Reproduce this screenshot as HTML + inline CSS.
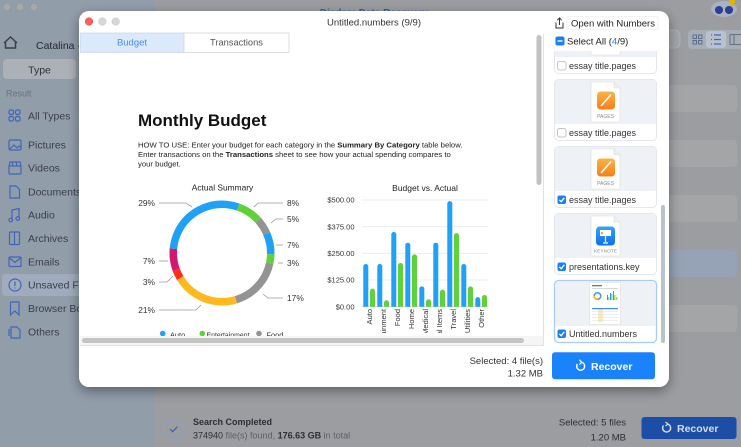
<!DOCTYPE html>
<html><head><meta charset="utf-8"><style>
html,body{margin:0;padding:0;width:741px;height:447px;overflow:hidden;background:#9d9ea1}
svg{display:block;font-family:"Liberation Sans",Arial,sans-serif}
</style></head><body>
<svg width="741" height="447" viewBox="0 0 741 447" xmlns="http://www.w3.org/2000/svg">
<defs>
<filter id="sh" x="-10%" y="-10%" width="120%" height="125%"><feGaussianBlur in="SourceAlpha" stdDeviation="6"/><feOffset dy="4"/><feComponentTransfer><feFuncA type="linear" slope="0.4"/></feComponentTransfer><feMerge><feMergeNode/><feMergeNode in="SourceGraphic"/></feMerge></filter>
<clipPath id="pv"><rect x="80" y="53" width="456" height="283"/></clipPath>
<clipPath id="lst"><rect x="548" y="51" width="116" height="296"/></clipPath>
<clipPath id="bars"><rect x="355" y="190" width="140" height="116.7"/></clipPath>
<clipPath id="xl"><rect x="355" y="306" width="140" height="27"/></clipPath>
<linearGradient id="og" x1="0" y1="0" x2="0" y2="1"><stop offset="0" stop-color="#fdb344"/><stop offset="1" stop-color="#f57f17"/></linearGradient>
<linearGradient id="kg" x1="0" y1="0" x2="0" y2="1"><stop offset="0" stop-color="#39a2fb"/><stop offset="1" stop-color="#0b6fe8"/></linearGradient>
</defs>

<!-- background app -->
<rect width="741" height="447" fill="#9c9da0"/>
<rect x="0" y="0" width="155" height="447" fill="#929daa"/>
<circle cx="7" cy="7" r="3.8" fill="#a4a9af" stroke="#8f959c" stroke-width=".6"/>
<circle cx="20" cy="7" r="3.8" fill="#a4a9af" stroke="#8f959c" stroke-width=".6"/>
<circle cx="34" cy="7" r="3.8" fill="#a4a9af" stroke="#8f959c" stroke-width=".6"/>
<text x="374" y="16" font-size="10" font-weight="bold" fill="#2f5cb0" text-anchor="middle">Diadem Data Recovery</text>
<!-- logo -->
<ellipse cx="724" cy="9" rx="13" ry="8" fill="#a9b2c4"/>
<circle cx="719" cy="10" r="4" fill="#2c3f8c"/><circle cx="729" cy="10" r="4" fill="#2c3f8c"/>
<rect x="729" y="0" width="6" height="3" fill="#e3b400"/><rect x="730.5" y="0" width="3" height="6" fill="#e3b400"/>

<!-- sidebar -->
<path d="M4 43 L10.5 37 L17 43 M5.5 42 V48 H15.5 V42" fill="none" stroke="#3a3f47" stroke-width="1.5"/>
<text x="36" y="49" font-size="10.5" fill="#24282e">Catalina - Macintosh HD</text>
<rect x="3" y="59" width="73" height="20" rx="4" fill="#acb0b7"/>
<text x="39.5" y="73.5" font-size="10.5" fill="#2f3238" text-anchor="middle">Type</text>
<text x="6" y="96.5" font-size="9" fill="#6b737d">Result</text>
<rect x="2" y="274" width="150" height="22" rx="4" fill="#a0acbd"/>
<g fill="none" stroke="#4066b8" stroke-width="1.2">
<rect x="9" y="110" width="4.5" height="4.5" rx="1.5"/><rect x="15.5" y="110" width="4.5" height="4.5" rx="1.5"/><rect x="9" y="116.5" width="4.5" height="4.5" rx="1.5"/><rect x="15.5" y="116.5" width="4.5" height="4.5" rx="1.5"/>
<rect x="9" y="140" width="12" height="10" rx="1.5"/><path d="M10 149 L14 145 L17 148 L19 146 L21 148"/>
<rect x="9" y="166" width="12" height="8" rx="1"/><path d="M9 166 L10 162 L20 162 L21 166 M12 162 L13 166 M16 162 L17 166"/>
<path d="M10 186 H16 L19.5 189.5 V198 H10 Z"/>
<path d="M12 220 V210 L19 208.5 V218"/><circle cx="10.8" cy="220" r="1.8"/><circle cx="17.8" cy="218.5" r="1.8"/>
<rect x="9.5" y="232" width="10" height="12.5" rx="1"/><path d="M14.5 232 V244.5"/>
<rect x="9" y="257" width="12" height="9.5" rx="1"/><path d="M9 257.5 L15 262.5 L21 257.5"/>
<circle cx="15" cy="285" r="6"/><path d="M15 281.5 V286 M15 287.5 V288.5"/>
<path d="M10.5 302 H19 V315 L14.75 311 L10.5 315 Z"/>
<path d="M11 327 H17 L20 330 V338 H11 Z M9 329 V336"/>
</g>
<g font-size="10.5" fill="#3a3f48">
<text x="28" y="119.7">All Types</text>
<text x="28" y="148.7">Pictures</text>
<text x="28" y="171.7">Videos</text>
<text x="28" y="195.7">Documents</text>
<text x="28" y="218.7">Audio</text>
<text x="28" y="242">Archives</text>
<text x="28" y="265.7">Emails</text>
<text x="28" y="288.7">Unsaved Files</text>
<text x="28" y="312.2">Browser Bookmarks</text>
<text x="28" y="335.7">Others</text>
</g>

<!-- main toolbar -->
<rect x="500" y="30" width="180" height="18" rx="5" fill="#a3a6aa" stroke="#b2b5b9" stroke-width=".8"/>
<rect x="688" y="30" width="60" height="19" rx="4" fill="#a8aeb6"/>
<g fill="none" stroke="#5d6e8c" stroke-width="1"><rect x="693" y="35" width="3.5" height="3.5"/><rect x="698.5" y="35" width="3.5" height="3.5"/><rect x="693" y="40.5" width="3.5" height="3.5"/><rect x="698.5" y="40.5" width="3.5" height="3.5"/></g>
<rect x="706" y="31" width="20" height="17" rx="3" fill="#b9c1cb"/>
<g stroke="#3a6bc7" stroke-width="1.2"><path d="M711 35 H712 M714 35 H721 M711 39.5 H712 M714 39.5 H721 M711 44 H712 M714 44 H721"/></g>
<g stroke="#6a7588" stroke-width="1.1" fill="none"><rect x="730" y="34.5" width="14" height="10"/><path d="M734 34.5 V44.5"/></g>
<!-- rows -->
<g fill="#a4a5a7"><rect x="160" y="85" width="577" height="27" rx="4"/><rect x="160" y="140" width="577" height="27" rx="4"/><rect x="160" y="195" width="577" height="27" rx="4"/><rect x="160" y="305" width="577" height="27" rx="4"/></g>
<rect x="160" y="250" width="577" height="27" rx="4" fill="#96a3b6"/>

<!-- bottom bar -->
<circle cx="173.5" cy="429" r="10" fill="none" stroke="#8ca1c6" stroke-width="1.2"/>
<path d="M170 429 L172.7 431.7 L177.5 426.5" fill="none" stroke="#3b63b8" stroke-width="1.2"/>
<text x="193" y="425" font-size="9" font-weight="bold" fill="#2b2f36">Search Completed</text>
<text x="193" y="438.5" font-size="9" fill="#5b6068"><tspan fill="#2b2f36">374940</tspan> file(s) found, <tspan fill="#2b2f36" font-weight="bold">176.63 GB</tspan> in total</text>
<text x="626" y="425.5" font-size="9.5" fill="#2b2f36" text-anchor="end">Selected: 5 files</text>
<text x="626" y="440.5" font-size="9.5" fill="#2b2f36" text-anchor="end">1.20 MB</text>
<rect x="641.5" y="417" width="95" height="22" rx="3" fill="#1c4ea8"/>
<path d="M663.5 425.5 A4 4 0 1 0 667 424" fill="none" stroke="#d7dce6" stroke-width="1.4"/>
<path d="M665.5 422 L668 424 L665.5 426" fill="none" stroke="#d7dce6" stroke-width="1.2"/>
<text x="677" y="432" font-size="10.5" font-weight="bold" fill="#d7dce6">Recover</text>

<!-- modal -->
<rect x="79" y="11" width="590" height="376" rx="10" fill="#fff" filter="url(#sh)"/>
<circle cx="89" cy="21.5" r="3.8" fill="#fe5f57" stroke="#e0443e" stroke-width=".5"/>
<circle cx="102.3" cy="21.5" r="3.8" fill="#d6d6d6" stroke="#c4c4c4" stroke-width=".5"/>
<circle cx="115.7" cy="21.5" r="3.8" fill="#d6d6d6" stroke="#c4c4c4" stroke-width=".5"/>
<text x="374" y="25.5" font-size="9.5" fill="#333" text-anchor="middle">Untitled.numbers (9/9)</text>

<!-- tabs -->
<rect x="80.5" y="33" width="103.5" height="19.5" fill="#dbe9fb" stroke="#c9d9ee" stroke-width=".8"/>
<rect x="184" y="33" width="105" height="19.5" fill="#fff" stroke="#d6d6d6" stroke-width=".8"/>
<text x="132" y="45.5" font-size="9.5" fill="#4a8fe7" text-anchor="middle">Budget</text>
<text x="236.5" y="45.5" font-size="9.3" fill="#555" text-anchor="middle">Transactions</text>

<!-- preview borders & scrollbars -->
<path d="M543.5 34 V345.5 H80" fill="none" stroke="#e2e2e2" stroke-width="1"/>
<rect x="80" y="336" width="463" height="9" fill="#f5f5f5"/>
<rect x="82" y="338" width="442" height="5" rx="2.5" fill="#c4c4c4"/>
<rect x="536.5" y="35" width="5" height="150" rx="2.5" fill="#c2c2c2"/>

<g clip-path="url(#pv)">
<text x="138" y="126" font-size="17" font-weight="bold" fill="#111">Monthly Budget</text>
<g font-size="7.7" fill="#222">
<text x="138" y="147.3">HOW TO USE: Enter your budget for each category in the <tspan font-weight="bold">Summary By Category</tspan> table below.</text>
<text x="138" y="157">Enter transactions on the <tspan font-weight="bold">Transactions</tspan> sheet to see how your actual spending compares to</text>
<text x="138" y="166.3">your budget.</text>
</g>

<!-- donut -->
<text x="222.5" y="190.3" font-size="8.4" fill="#222" text-anchor="middle">Actual Summary</text>
<g fill="none" stroke-width="7.5" transform="rotate(-175 222 253)">
<circle cx="222" cy="253" r="48.75" pathLength="100" stroke="#1ea1f6" stroke-dasharray="29 71" stroke-dashoffset="0"/>
<circle cx="222" cy="253" r="48.75" pathLength="100" stroke="#5fd23a" stroke-dasharray="8 92" stroke-dashoffset="-29"/>
<circle cx="222" cy="253" r="48.75" pathLength="100" stroke="#939393" stroke-dasharray="5 95" stroke-dashoffset="-37"/>
<circle cx="222" cy="253" r="48.75" pathLength="100" stroke="#1ea1f6" stroke-dasharray="7 93" stroke-dashoffset="-42"/>
<circle cx="222" cy="253" r="48.75" pathLength="100" stroke="#5fd23a" stroke-dasharray="3 97" stroke-dashoffset="-49"/>
<circle cx="222" cy="253" r="48.75" pathLength="100" stroke="#939393" stroke-dasharray="17 83" stroke-dashoffset="-52"/>
<circle cx="222" cy="253" r="48.75" pathLength="100" stroke="#fdb91e" stroke-dasharray="21 79" stroke-dashoffset="-69"/>
<circle cx="222" cy="253" r="48.75" pathLength="100" stroke="#fe2c1c" stroke-dasharray="3 97" stroke-dashoffset="-90"/>
<circle cx="222" cy="253" r="48.75" pathLength="100" stroke="#d31870" stroke-dasharray="7 93" stroke-dashoffset="-93"/>
</g>
<g fill="none" stroke="#9a9a9a" stroke-width=".8">
<polyline points="159,203 186,203 192,207"/>
<polyline points="283,203 258,203 254,207"/>
<polyline points="283,219 276,219 271,223"/>
<polyline points="283,245 276,245"/>
<polyline points="283,263 278,263"/>
<polyline points="283,298 268,298 263,294"/>
<polyline points="159,261 168,261"/>
<polyline points="159,282 167,282 173,276"/>
<polyline points="159,310 196,310 201,305"/>
</g>
<g font-size="8.4" fill="#333">
<text x="155" y="206" text-anchor="end">29%</text>
<text x="155" y="264" text-anchor="end">7%</text>
<text x="155" y="285" text-anchor="end">3%</text>
<text x="155" y="313" text-anchor="end">21%</text>
<text x="287" y="206">8%</text>
<text x="287" y="222">5%</text>
<text x="287" y="248">7%</text>
<text x="287" y="266">3%</text>
<text x="287" y="301">17%</text>
</g>
<circle cx="162.7" cy="333.5" r="2.8" fill="#1ea1f6"/>
<circle cx="202.3" cy="333.5" r="2.8" fill="#5fd23a"/>
<circle cx="259" cy="333.5" r="2.8" fill="#939393"/>
<g font-size="7.4" fill="#333">
<text x="170" y="337.5">Auto</text>
<text x="206.5" y="337.5" textLength="43" lengthAdjust="spacingAndGlyphs">Entertainment</text>
<text x="266.5" y="337.5">Food</text>
</g>

<!-- bar chart -->
<text x="425" y="191" font-size="8.5" fill="#222" text-anchor="middle">Budget vs. Actual</text>
<g stroke="#e8e8e8" stroke-width=".8"><path d="M362 200 H488 M362 226.7 H488 M362 253.3 H488 M362 280 H488"/></g>
<path d="M362 306.7 H488" stroke="#cfcfcf" stroke-width=".8"/>
<g font-size="7.5" fill="#333" text-anchor="end">
<text x="354.5" y="202.7">$500.00</text>
<text x="354.5" y="229.4">$375.00</text>
<text x="354.5" y="256">$250.00</text>
<text x="354.5" y="282.7">$125.00</text>
<text x="354.5" y="309.4">$0.00</text>
</g>
<g clip-path="url(#bars)">
<g fill="#1ea1f6">
<rect x="363.3" y="264" width="5" height="50" rx="2.5"/>
<rect x="377.3" y="264" width="5" height="50" rx="2.5"/>
<rect x="391.3" y="232" width="5" height="80" rx="2.5"/>
<rect x="405.3" y="242.7" width="5" height="70" rx="2.5"/>
<rect x="419.3" y="286.4" width="5" height="30" rx="2.5"/>
<rect x="433.3" y="242.7" width="5" height="70" rx="2.5"/>
<rect x="447.3" y="201.1" width="5" height="110" rx="2.5"/>
<rect x="461.3" y="264" width="5" height="50" rx="2.5"/>
<rect x="475.3" y="297.1" width="5" height="20" rx="2.5"/>
</g>
<g fill="#5fd23a">
<rect x="370" y="288.6" width="5" height="30" rx="2.5"/>
<rect x="384" y="300.3" width="5" height="20" rx="2.5"/>
<rect x="398" y="263" width="5" height="50" rx="2.5"/>
<rect x="412" y="254.4" width="5" height="60" rx="2.5"/>
<rect x="426" y="299.2" width="5" height="20" rx="2.5"/>
<rect x="440" y="289.6" width="5" height="30" rx="2.5"/>
<rect x="454" y="233.1" width="5" height="80" rx="2.5"/>
<rect x="468" y="286.4" width="5" height="30" rx="2.5"/>
<rect x="482" y="295" width="5" height="20" rx="2.5"/>
</g>
</g>
<g clip-path="url(#xl)" font-size="7.5" fill="#333" text-anchor="end">
<text transform="translate(371.8,309) rotate(-90)">Auto</text>
<text transform="translate(385.8,309) rotate(-90)">Entertainment</text>
<text transform="translate(399.8,309) rotate(-90)">Food</text>
<text transform="translate(413.8,309) rotate(-90)">Home</text>
<text transform="translate(427.8,309) rotate(-90)">Medical</text>
<text transform="translate(441.8,309) rotate(-90)">Personal Items</text>
<text transform="translate(455.8,309) rotate(-90)">Travel</text>
<text transform="translate(469.8,309) rotate(-90)">Utilities</text>
<text transform="translate(483.8,309) rotate(-90)">Other</text>
</g>
</g>

<!-- right panel -->
<g fill="none" stroke="#333" stroke-width="1"><path d="M556 22.5 V28 H563 V22.5"/><path d="M559.5 25 V18 M557.3 20.2 L559.5 18 L561.7 20.2"/></g>
<rect x="567" y="16.7" width="91" height="12.5" fill="#fff" stroke="#ececec" stroke-width=".7"/>
<text x="571" y="26.7" font-size="9.5" fill="#222">Open with Numbers</text>
<rect x="555.5" y="36.5" width="9" height="9" rx="2" fill="#1a7ef5"/>
<path d="M557.5 41 H562.5" stroke="#fff" stroke-width="1.4"/>
<text x="567" y="44.5" font-size="9.5" fill="#222">Select All (<tspan fill="#2a7ff0">4</tspan>/9)</text>

<g clip-path="url(#lst)">
<g>
<rect x="554.5" y="12.5" width="102" height="61" rx="4" fill="#fff" stroke="#e4e7ed"/>
<path d="M555 16.5 Q555 13 558.5 13 H652.5 Q656 13 656 16.5 V57 H555 Z" fill="#eef1f6"/>
<path d="M591 15 H614 L620 21 V55 H591 Z" fill="#fff" stroke="#dcdcdc" stroke-width=".6"/>
<rect x="557.5" y="61.5" width="8.5" height="8.5" rx="2" fill="#fff" stroke="#c6c6c6"/>
<text x="569" y="69" font-size="9" fill="#333">essay title.pages</text>
</g>
<g>
<rect x="554.5" y="79.5" width="102" height="61" rx="4" fill="#fff" stroke="#e4e7ed"/>
<path d="M555 83.5 Q555 80 558.5 80 H652.5 Q656 80 656 83.5 V124 H555 Z" fill="#eef1f6"/>
<path d="M591 82 H614 L620 88 V122 H591 Z" fill="#fff" stroke="#dcdcdc" stroke-width=".6"/>
<path d="M614 82 V88 H620" fill="#eee" stroke="#dcdcdc" stroke-width=".6"/>
<rect x="597" y="91.5" width="18" height="18" rx="3.5" fill="url(#og)"/>
<path d="M601 106 L611 94.5" stroke="#fff" stroke-width="1.6"/>
<text x="605.5" y="118" font-size="5" fill="#8a8a8a" text-anchor="middle">PAGES</text>
<rect x="557.5" y="128.5" width="8.5" height="8.5" rx="2" fill="#fff" stroke="#c6c6c6"/>
<text x="569" y="136" font-size="9" fill="#333">essay title.pages</text>
</g>
<g>
<rect x="554.5" y="146.5" width="102" height="61" rx="4" fill="#fff" stroke="#e4e7ed"/>
<path d="M555 150.5 Q555 147 558.5 147 H652.5 Q656 147 656 150.5 V191 H555 Z" fill="#eef1f6"/>
<path d="M591 149 H614 L620 155 V189 H591 Z" fill="#fff" stroke="#dcdcdc" stroke-width=".6"/>
<path d="M614 149 V155 H620" fill="#eee" stroke="#dcdcdc" stroke-width=".6"/>
<rect x="597" y="158.5" width="18" height="18" rx="3.5" fill="url(#og)"/>
<path d="M601 173 L611 161.5" stroke="#fff" stroke-width="1.6"/>
<text x="605.5" y="185" font-size="5" fill="#8a8a8a" text-anchor="middle">PAGES</text>
<rect x="557.5" y="195.5" width="8.5" height="8.5" rx="2" fill="#1a7ef5"/>
<path d="M559.3 199.8 L561.2 201.8 L564.3 197.8" fill="none" stroke="#fff" stroke-width="1.3"/>
<text x="569" y="203" font-size="9" fill="#333">essay title.pages</text>
</g>
<g>
<rect x="554.5" y="213.5" width="102" height="61" rx="4" fill="#fff" stroke="#e4e7ed"/>
<path d="M555 217.5 Q555 214 558.5 214 H652.5 Q656 214 656 217.5 V258 H555 Z" fill="#eef1f6"/>
<path d="M591 216 H614 L620 222 V256 H591 Z" fill="#fff" stroke="#dcdcdc" stroke-width=".6"/>
<path d="M614 216 V222 H620" fill="#eee" stroke="#dcdcdc" stroke-width=".6"/>
<rect x="596" y="226.5" width="19" height="19" rx="3.5" fill="url(#kg)"/>
<rect x="600" y="230" width="11" height="6" fill="#fff"/>
<circle cx="602" cy="233" r="1.3" fill="#f5a623"/>
<path d="M605.5 236 V242 M603 243 H608" stroke="#fff" stroke-width="1.2"/>
<text x="605.5" y="252.5" font-size="4.8" fill="#8a8a8a" text-anchor="middle">KEYNOTE</text>
<rect x="557.5" y="262.5" width="8.5" height="8.5" rx="2" fill="#1a7ef5"/>
<path d="M559.3 266.8 L561.2 268.8 L564.3 264.8" fill="none" stroke="#fff" stroke-width="1.3"/>
<text x="569" y="270" font-size="9" fill="#333">presentations.key</text>
</g>
<g>
<rect x="554.5" y="280.5" width="102" height="62" rx="4" fill="#fff" stroke="#a9cbf5" stroke-width="1.3"/>
<path d="M555.3 284.5 Q555.3 281.3 558.5 281.3 H652.5 Q655.7 281.3 655.7 284.5 V326 H555.3 Z" fill="#eef1f6"/>
<rect x="589.5" y="282.5" width="31" height="42" fill="#fff" stroke="#d8d8d8" stroke-width=".5"/>
<rect x="592" y="285" width="10" height="1.3" fill="#777"/>
<rect x="592" y="288" width="26" height=".7" fill="#c8c8c8"/>
<circle cx="597.5" cy="296" r="3.3" fill="none" stroke="#1ea1f6" stroke-width="1.5"/>
<path d="M597.5 299.3 A3.3 3.3 0 0 1 594.2 296" fill="none" stroke="#fdb91e" stroke-width="1.5"/>
<path d="M600.8 296 A3.3 3.3 0 0 1 597.5 299.3" fill="none" stroke="#939393" stroke-width="1.5"/>
<g fill="#1ea1f6"><rect x="607" y="295" width="1" height="5"/><rect x="610" y="293" width="1" height="7"/><rect x="613" y="291" width="1" height="9"/></g>
<g fill="#5fd23a"><rect x="608.3" y="297" width="1" height="3"/><rect x="611.3" y="294" width="1" height="6"/><rect x="614.3" y="295" width="1" height="5"/><rect x="616.3" y="297" width="1" height="3"/></g>
<rect x="598" y="309" width="5" height="13" fill="#fde9c0"/>
<rect x="592" y="308" width="26" height="1.2" fill="#3b8ff0"/>
<g fill="#dcdcdc"><rect x="592" y="311.5" width="26" height=".5"/><rect x="592" y="314.5" width="26" height=".5"/><rect x="592" y="317.5" width="26" height=".5"/><rect x="592" y="320.5" width="26" height=".5"/></g>
<rect x="557.5" y="329.5" width="8.5" height="8.5" rx="2" fill="#1a7ef5"/>
<path d="M559.3 333.8 L561.2 335.8 L564.3 331.8" fill="none" stroke="#fff" stroke-width="1.3"/>
<text x="569" y="337" font-size="9" fill="#333">Untitled.numbers</text>
</g>
</g>
<rect x="661" y="205" width="4" height="138" rx="2" fill="#b9c3cd"/>

<!-- footer -->
<text x="543" y="364" font-size="9.5" fill="#333" text-anchor="end">Selected: 4 file(s)</text>
<text x="543" y="376.5" font-size="9.5" fill="#333" text-anchor="end">1.32 MB</text>
<rect x="552" y="352.3" width="103" height="27" rx="3" fill="#1a82fb"/>
<path d="M577.3 364 A4 4 0 1 0 581 362.2" fill="none" stroke="#fff" stroke-width="1.4"/>
<path d="M579.3 359.8 L581.8 362.2 L579.3 364.6" fill="none" stroke="#fff" stroke-width="1.2"/>
<text x="591" y="369.8" font-size="10.5" font-weight="bold" fill="#fff">Recover</text>
</svg>
</body></html>
